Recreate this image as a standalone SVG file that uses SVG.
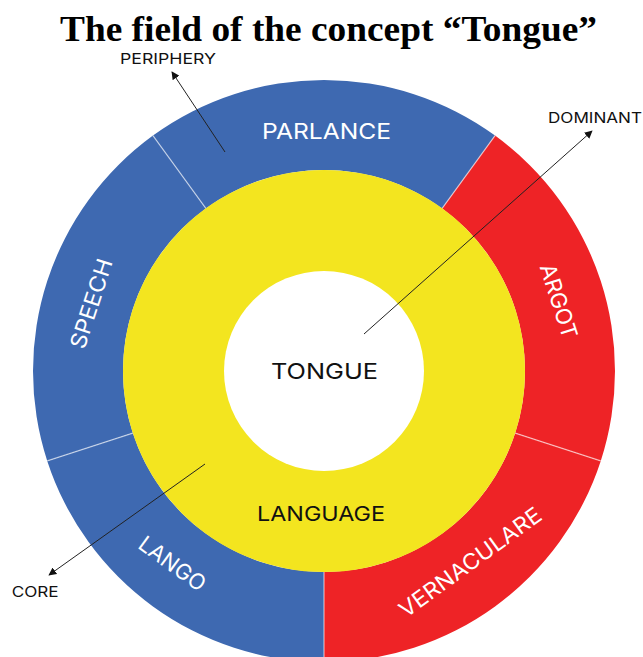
<svg xmlns="http://www.w3.org/2000/svg" width="643" height="657" viewBox="0 0 643 657">
  <style>
    .title { font-family: "Liberation Serif", "Times New Roman", serif; font-weight: bold; font-size: 36px; fill: #000; }
    .lbl { font-family: Inter, "Liberation Sans", sans-serif; font-size: 14.5px; fill: #111; }
    .ring { font-family: Inter, "Liberation Sans", sans-serif; font-size: 22px; fill: #fff; }
    .core { font-family: Inter, "Liberation Sans", sans-serif; fill: #111; }
    .blue { fill: #3e69b1; }
    .red { fill: #ee2326; }
    .sep { stroke: #ffffff; stroke-opacity: 0.6; stroke-width: 1.2; }
    .conn { stroke: #222; stroke-width: 1; fill: none; marker-end: url(#arrow); }
  </style>
  <defs>
    <marker id="arrow" viewBox="0 0 10 10" refX="9" refY="5" markerWidth="8" markerHeight="8" markerUnits="userSpaceOnUse" orient="auto">
      <path d="M0,0 L10,5 L0,10 Z" fill="#111"/>
    </marker>
  </defs>
  <rect width="643" height="657" fill="#fff"/>
  <text class="title" x="328.5" y="40.5" text-anchor="middle" textLength="537" lengthAdjust="spacingAndGlyphs">The field of the concept “Tongue”</text>

  <g id="parlance">
    <path class="blue" d="M152.95,135.58 A291,291 0 0 1 495.05,135.58 L442.14,208.39 A201,201 0 0 0 205.86,208.39 Z"/>
    <text class="ring" x="326.5" y="138.5" text-anchor="middle" textLength="129" lengthAdjust="spacingAndGlyphs">PARLANCE</text>
  </g>
  <g id="argot">
    <path class="red" d="M495.05,135.58 A291,291 0 0 1 600.76,460.92 L515.16,433.11 A201,201 0 0 0 442.14,208.39 Z"/>
    <text class="ring" transform="translate(559,301) rotate(72)" x="0" y="8" text-anchor="middle" textLength="77" lengthAdjust="spacingAndGlyphs">ARGOT</text>
  </g>
  <g id="vernaculare">
    <path class="red" d="M600.76,460.92 A291,291 0 0 1 324,662 L324,572 A201,201 0 0 0 515.16,433.11 Z"/>
    <text class="ring" transform="translate(470,562) rotate(-36)" x="0" y="8" text-anchor="middle" textLength="170" lengthAdjust="spacingAndGlyphs">VERNACULARE</text>
  </g>
  <g id="lango">
    <path class="blue" d="M324,662 A291,291 0 0 1 47.24,460.92 L132.84,433.11 A201,201 0 0 0 324,572 Z"/>
    <text class="ring" transform="translate(172.5,563.5) rotate(36)" x="0" y="8" text-anchor="middle" textLength="77" lengthAdjust="spacingAndGlyphs">LANGO</text>
  </g>
  <g id="speech">
    <path class="blue" d="M47.24,460.92 A291,291 0 0 1 152.95,135.58 L205.86,208.39 A201,201 0 0 0 132.84,433.11 Z"/>
    <text class="ring" transform="translate(91,303.5) rotate(-72)" x="0" y="8" text-anchor="middle" textLength="93" lengthAdjust="spacingAndGlyphs">SPEECH</text>
  </g>
  <g id="separators">
    <line class="sep" x1="152.95" y1="135.58" x2="205.86" y2="208.39"/>
    <line class="sep" x1="495.05" y1="135.58" x2="442.14" y2="208.39"/>
    <line class="sep" x1="600.76" y1="460.92" x2="515.16" y2="433.11"/>
    <line class="sep" x1="324" y1="662" x2="324" y2="572"/>
    <line class="sep" x1="47.24" y1="460.92" x2="132.84" y2="433.11"/>
  </g>
  <g id="language">
    <circle cx="324" cy="371" r="201" fill="#f3e51f"/>
    <text class="core" x="321" y="520.5" font-size="20" text-anchor="middle" textLength="128" lengthAdjust="spacingAndGlyphs">LANGUAGE</text>
  </g>
  <g id="tongue">
    <circle cx="324" cy="371" r="100" fill="#fff"/>
    <text class="core" x="324.5" y="379.3" font-size="22" text-anchor="middle" textLength="107" lengthAdjust="spacingAndGlyphs">TONGUE</text>
  </g>

  <g id="periphery">
    <text class="lbl" x="120" y="63.5" textLength="96" lengthAdjust="spacingAndGlyphs">PERIPHERY</text>
  </g>
  <g id="dominant">
    <text class="lbl" x="548" y="123.3" textLength="94" lengthAdjust="spacingAndGlyphs">DOMINANT</text>
  </g>
  <g id="core">
    <text class="lbl" x="11.7" y="596.7" textLength="47" lengthAdjust="spacingAndGlyphs">CORE</text>
  </g>

  <g id="connectors">
    <line class="conn" x1="225" y1="152" x2="172" y2="72"/>
    <line class="conn" x1="364" y1="334" x2="592" y2="131"/>
    <line class="conn" x1="205" y1="464" x2="49" y2="575"/>
  </g>
</svg>
